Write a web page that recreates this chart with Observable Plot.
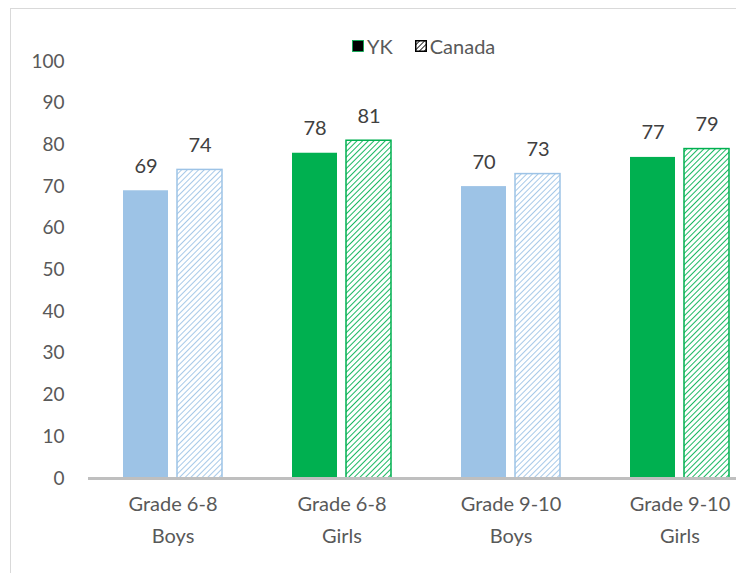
<!DOCTYPE html>
<html><head><meta charset="utf-8">
<script src="https://cdn.jsdelivr.net/npm/d3@7"></script>
<script src="https://cdn.jsdelivr.net/npm/@observablehq/plot@0.6"></script>
<style>
body{margin:0;background:#fff;}
#wrap{position:relative;width:736px;height:573px;overflow:hidden;font-family:Lato,sans-serif;background:#fff;}
#frame{position:absolute;left:10px;top:8px;width:900px;height:800px;border-left:1.5px solid #d9d9d9;border-top:1.5px solid #d9d9d9;box-sizing:border-box;}
#chart{position:absolute;left:0;top:0;}
#legend{position:absolute;top:34px;left:352px;font-size:20px;color:#595959;display:flex;align-items:center;white-space:nowrap;}
#legend .sw{display:inline-block;width:12px;height:12px;margin-right:3px;}
#defs{position:absolute;width:0;height:0;}
</style></head>
<body>
<svg id="defs" width="0" height="0">
  <defs>
    <pattern id="hatch-blue" patternUnits="userSpaceOnUse" width="4" height="4" patternTransform="rotate(45)">
      <rect width="4" height="4" fill="#ffffff"/>
      <line x1="0" y1="0" x2="0" y2="4" stroke="#9dc3e6" stroke-width="1.8"/>
    </pattern>
    <pattern id="hatch-green" patternUnits="userSpaceOnUse" width="4" height="4" patternTransform="rotate(45)">
      <rect width="4" height="4" fill="#ffffff"/>
      <line x1="0" y1="0" x2="0" y2="4" stroke="#00b050" stroke-width="1.8"/>
    </pattern>
    <pattern id="hatch-black" patternUnits="userSpaceOnUse" width="3.5" height="3.5" patternTransform="rotate(45)">
      <rect width="3.5" height="3.5" fill="#ffffff"/>
      <line x1="0" y1="0" x2="0" y2="3.5" stroke="#000" stroke-width="1.6"/>
    </pattern>
  </defs>
</svg>
<div id="wrap">
  <div id="frame"></div>
  <div id="chart"></div>
  <div id="legend">
    <svg class="sw" viewBox="0 0 12 12"><rect x="0.5" y="0.5" width="11" height="11" fill="#000" stroke="#00b050" stroke-width="0.8"/></svg><span>YK</span>
    <span style="display:inline-block;width:22px"></span>
    <svg class="sw" viewBox="0 0 12 12"><rect x="0.75" y="0.75" width="10.5" height="10.5" fill="url(#hatch-black)" stroke="#000" stroke-width="1.5"/></svg><span>Canada</span>
  </div>
</div>
<script>
const categories = ["Grade 6-8\nBoys", "Grade 6-8\nGirls", "Grade 9-10\nBoys", "Grade 9-10\nGirls"];
const series = ["YK", "Canada"];
const ykValues = [69, 78, 70, 77];
const canadaValues = [74, 81, 73, 79];
const yTicks = [0, 10, 20, 30, 40, 50, 60, 70, 80, 90, 100];

const BLUE = "#9dc3e6", GREEN = "#00b050";
const data = categories.flatMap((c, i) => [
  {cat: c, series: "YK", value: ykValues[i], girls: i % 2 === 1},
  {cat: c, series: "Canada", value: canadaValues[i], girls: i % 2 === 1}
]);

const chart = Plot.plot({
  width: 780,
  height: 573,
  marginLeft: 88,
  marginRight: 16,
  marginTop: 61,
  marginBottom: 95,
  fx: {domain: categories, padding: 0, axis: null},
  x: {domain: series, axis: null, paddingInner: 0.17, paddingOuter: 0.64},
  y: {domain: [0, 100], axis: null},
  color: {type: "identity"},
  style: {fontFamily: "Lato, sans-serif", fontSize: "19px", color: "#595959", maxWidth: "none", background: "transparent"},
  marks: [
    Plot.axisY({ticks: yTicks, tickSize: 0, tickPadding: 24, fontSize: 19, fill: "#595959", label: null}),
    Plot.axisFx({anchor: "bottom", tickSize: 0, tickPadding: 10, lineHeight: 1.6, fontSize: 20, fill: "#595959", label: null}),
    Plot.barY(data, {
      fx: "cat", x: "series", y: "value",
      fill: d => d.series === "YK" ? (d.girls ? GREEN : BLUE) : (d.girls ? "url(#hatch-green)" : "url(#hatch-blue)"),
      stroke: d => d.series === "Canada" ? (d.girls ? GREEN : BLUE) : "none",
      strokeWidth: 1.5
    }),
    Plot.ruleY([0], {stroke: "#bfbfbf", strokeWidth: 3}),
    Plot.text(data, {fx: "cat", x: "series", y: "value", text: d => String(d.value), dy: -18, lineAnchor: "bottom", fontSize: 20, fill: "#404040"})
  ]
});
document.getElementById("chart").appendChild(chart);
</script>
</body></html>
